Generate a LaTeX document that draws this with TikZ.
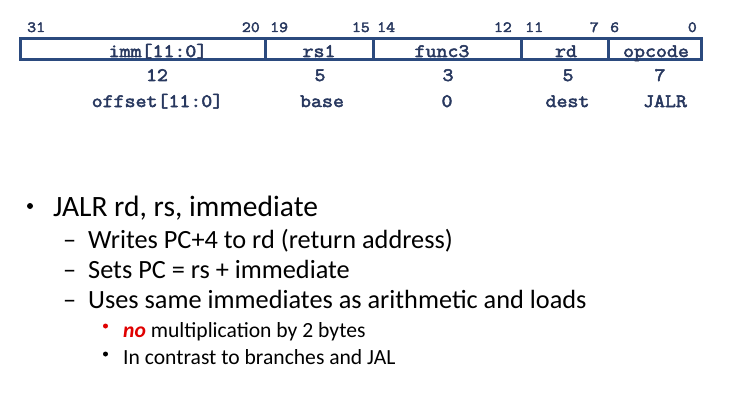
\documentclass[tikz,border=0pt]{standalone}
\usepackage{fontspec}
\setmainfont{Carlito}
\newfontfamily\monof{Latin Modern Mono}[FakeStretch=1.12, FakeBold=2.8]
\definecolor{boxblue}{RGB}{43,74,126}
\definecolor{txtblue}{RGB}{40,56,95}
\definecolor{nored}{RGB}{224,0,0}
\tikzset{
  field/.style={draw=boxblue, line width=3pt, inner sep=0pt, minimum height=21.5pt},
  lbl/.style={inner sep=0pt, anchor=base, text=txtblue, font=\fontsize{19}{20}\selectfont\monof},
  bitnum/.style={inner sep=0pt, text=txtblue, font=\fontsize{15.5}{16}\selectfont\monof},
  lvla/.style={inner sep=0pt, anchor=base west, font=\fontsize{29.5}{32}\selectfont},
  lvlb/.style={inner sep=0pt, anchor=base west, font=\fontsize{26.3}{28}\selectfont},
  lvlc/.style={inner sep=0pt, anchor=base west, font=\fontsize{21.6}{24}\selectfont},
  dot/.style={circle, fill, inner sep=0pt},
}
\begin{document}
\begin{tikzpicture}[x=1pt,y=-1pt]
\useasboundingbox (0,0) rectangle (739,404);
% fields
\node[field, minimum width=245pt] (fimm) at (142.5,49.25) {};
\node[field, minimum width=108pt] (frs) at (319,49.25) {};
\node[field, minimum width=148pt] (ffn) at (447,49.25) {};
\node[field, minimum width=87pt] (frd) at (564.5,49.25) {};
\node[field, minimum width=93pt] (fop) at (654.5,49.25) {};
% bit numbers
\node[bitnum, anchor=base west] (b31) at (27,32) {31};
\node[bitnum, anchor=base east] (b20) at (260,32) {20};
\node[bitnum, anchor=base west] (b19) at (270,32) {19};
\node[bitnum, anchor=base east] (b15) at (370,32) {15};
\node[bitnum, anchor=base west] (b14) at (377,32) {14};
\node[bitnum, anchor=base east] (b12) at (512,32) {12};
\node[bitnum, anchor=base west] (b11) at (525,32) {11};
\node[bitnum, anchor=base east] (b7) at (599,32) {7};
\node[bitnum, anchor=base west] (b6) at (610,32) {6};
\node[bitnum, anchor=base east] (b0) at (697,32) {0};
% field labels
\node[lbl] (limm) at (158,57) {imm[11:0]};
\node[lbl] (lrs) at (319,57) {rs1};
\node[lbl] (lfn) at (442,57) {func3};
\node[lbl] (lrd) at (566,57) {rd};
\node[lbl] (lop) at (656,57) {opcode};
% sizes
\node[lbl] (s12) at (157,81) {12};
\node[lbl] (s5a) at (320,81) {5};
\node[lbl] (s3) at (448,81) {3};
\node[lbl] (s5b) at (568,81) {5};
\node[lbl] (s7) at (660,81) {7};
% meanings
\node[lbl] (moff) at (157.5,107) {offset[11:0]};
\node[lbl] (mbase) at (322,107) {base};
\node[lbl] (mzero) at (447,107) {0};
\node[lbl] (mdest) at (567.5,107) {dest};
\node[lbl] (mjalr) at (665,107) {JALR};
% bullets
\node[dot, minimum size=6pt] (d1) at (30,206) {};
\node[lvla] (t1) at (53,216) {JALR rd, rs, immediate};
\node[lvlb] (h1) at (63,248) {–};
\node[lvlb] (t2) at (88,248) {Writes PC+4 to rd (return address)};
\node[lvlb] (h2) at (63,278) {–};
\node[lvlb] (t3) at (88,278) {Sets PC = rs + immediate};
\node[lvlb] (h3) at (63,308) {–};
\node[lvlb] (t4) at (88,308) {Uses same immediates as arithmetic and loads};
\node[dot, fill=nored, minimum size=5pt] (d2) at (105.5,326) {};
\node[lvlc] (t5) at (123,337) {\textcolor{nored}{\textbf{\textit{no}}} multiplication by 2 bytes};
\node[dot, minimum size=5pt] (d3) at (105.5,354) {};
\node[lvlc] (t6) at (123,364) {In contrast to branches and JAL};
\end{tikzpicture}
\end{document}
